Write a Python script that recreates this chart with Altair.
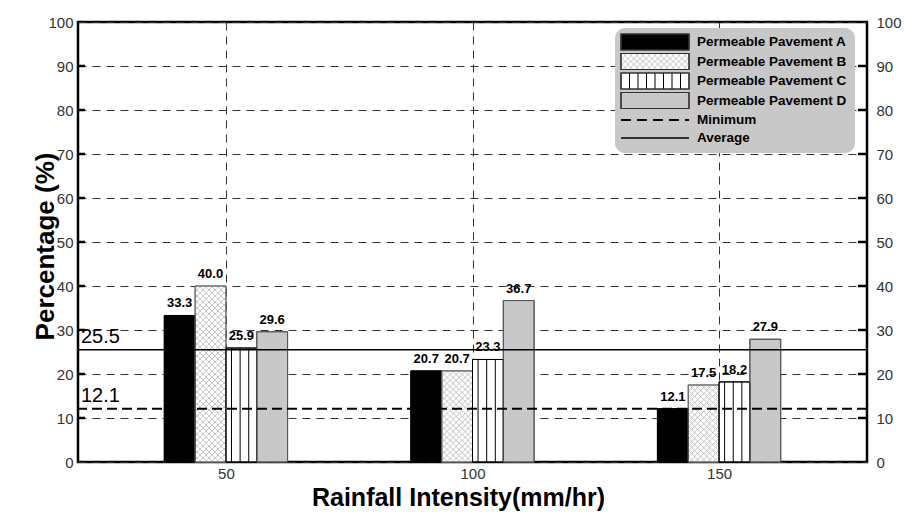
import altair as alt
import pandas as pd
import numpy as np

# ---------------- data ----------------
intensity = [50, 100, 150]
series = ["Permeable Pavement A", "Permeable Pavement B",
          "Permeable Pavement C", "Permeable Pavement D"]
pav_a = [33.3, 20.7, 12.1]
pav_b = [40.0, 20.7, 17.5]
pav_c = [25.9, 23.3, 18.2]
pav_d = [29.6, 36.7, 27.9]
average_value = 25.5
minimum_value = 12.1
y_ticks = [0, 10, 20, 30, 40, 50, 60, 70, 80, 90, 100]
x_ticks = [50, 100, 150]
legend_lines = ["Minimum", "Average"]

# ---------------- layout ----------------
W, H = 789, 440
XDOM = [20, 180]
BW = 6.25                      # bar width in x-data units
PXX = W / (XDOM[1] - XDOM[0])  # pixels per x unit
PXY = H / 100.0                # pixels per y unit
FONT = "Liberation Sans"

XS = alt.Scale(domain=XDOM, nice=False, zero=False)
YS = alt.Scale(domain=[0, 100], nice=False, zero=True)

rows = []
for si, (name, vals) in enumerate(zip(series, [pav_a, pav_b, pav_c, pav_d])):
    for c, v in zip(intensity, vals):
        x0 = c + (si - 2) * BW
        rows.append(dict(series=name, cat=c, value=v, x0=x0, x1=x0 + BW,
                         xc=x0 + BW / 2, label=f"{v:.1f}"))
bars = pd.DataFrame(rows)

fill_range = ["#000000", "#ffffff", "#ffffff", "#c8c8c8"]
stroke_range = ["#000000", "#666666", "#000000", "#555555"]

# crosshatch segments for series B (derived from bar geometry)
def hatch_segments(x0_data, w_px, h_px, s, ox=0.0, oy=0.0, to_data=True):
    segs = []
    for k in np.arange(-h_px, w_px, s):          # x - y = k
        xa, xb = max(0.0, k), min(w_px, h_px + k)
        if xb > xa:
            segs.append((xa, xa - k, xb, xb - k))
    for k in np.arange(s, w_px + h_px, s):       # x + y = k
        xa, xb = max(0.0, k - h_px), min(w_px, k)
        if xb > xa:
            segs.append((xa, k - xa, xb, k - xb))
    out = []
    for (a, b, c, d) in segs:
        if to_data:
            out.append(dict(hx=x0_data + a / PXX, hy=b / PXY,
                            hx2=x0_data + c / PXX, hy2=d / PXY))
        else:
            out.append(dict(hx=ox + a, hy=oy - b, hx2=ox + c, hy2=oy - d))
    return out

hatch_rows = []
for c, v in zip(intensity, pav_b):
    x0 = c + (1 - 2) * BW
    hatch_rows += hatch_segments(x0, BW * PXX, v * PXY, 6.0)
hatch = pd.DataFrame(hatch_rows)

# vertical stripes for series C
stripe_rows = []
for c, v in zip(intensity, pav_c):
    x0 = c + (2 - 2) * BW
    for f in (0.18, 0.46, 0.74):
        stripe_rows.append(dict(sx=x0 + f * BW, sv=v))
stripes = pd.DataFrame(stripe_rows)

ref_df = pd.DataFrame({"v": [average_value, minimum_value],
                       "label": [f"{average_value:.1f}", f"{minimum_value:.1f}"],
                       "kind": ["Average", "Minimum"]})
ticks_df = pd.DataFrame({"t": y_ticks[1:-1]})

# ---------------- layers ----------------
base = alt.Chart(bars)

bar_layer = base.mark_rect(strokeWidth=1).encode(
    x=alt.X("x0:Q", scale=XS, axis=alt.Axis(
        values=x_ticks, title="Rainfall Intensity(mm/hr)", grid=True,
        gridDash=[8, 6], gridColor="#333333", gridWidth=1, ticks=False,
        domain=False, labelFont=FONT, labelFontSize=15, labelColor="#333333",
        labelPadding=4, titleFont=FONT, titleFontSize=25, titleFontWeight="bold",
        titleColor="#000000", titleX=380, titleY=43, titleBaseline="alphabetic",
        titleAlign="center")),
    x2="x1:Q",
    y=alt.Y("value:Q", scale=YS, axis=alt.Axis(
        values=y_ticks, title="Percentage (%)", grid=True, gridDash=[8, 6],
        gridColor="#333333", gridWidth=1, ticks=False, domain=False,
        labelFont=FONT, labelFontSize=15, labelColor="#333333", labelPadding=5,
        titleFont=FONT, titleFontSize=26, titleFontWeight="bold",
        titleColor="#000000", titleX=-20, titleY=224, titleAngle=270,
        titleAlign="center", titleBaseline="bottom")),
    y2=alt.datum(0),
    fill=alt.Fill("series:N", scale=alt.Scale(domain=series, range=fill_range), legend=None),
    stroke=alt.Stroke("series:N", scale=alt.Scale(domain=series, range=stroke_range), legend=None),
)

hatch_layer = alt.Chart(hatch).mark_rule(color="#b4b4b4", strokeWidth=0.8).encode(
    x=alt.X("hx:Q", scale=XS, axis=None), x2="hx2:Q",
    y=alt.Y("hy:Q", scale=YS, axis=None), y2="hy2:Q",
)

stripe_layer = alt.Chart(stripes).mark_rule(color="#000000", strokeWidth=1).encode(
    x=alt.X("sx:Q", scale=XS, axis=None),
    y=alt.Y("sv:Q", scale=YS, axis=None), y2=alt.datum(0),
)

outline_layer = base.mark_rect(fillOpacity=0, strokeWidth=1).encode(
    x=alt.X("x0:Q", scale=XS, axis=None), x2="x1:Q",
    y=alt.Y("value:Q", scale=YS, axis=None), y2=alt.datum(0),
    stroke=alt.Stroke("series:N", scale=alt.Scale(domain=series, range=stroke_range), legend=None),
)

label_layer = base.mark_text(font=FONT, fontSize=13, fontWeight="bold",
                             baseline="alphabetic", dy=-8, color="#000000").encode(
    x=alt.X("xc:Q", scale=XS, axis=None),
    y=alt.Y("value:Q", scale=YS, axis=None),
    text="label:N",
)

avg_rule = alt.Chart(ref_df).transform_filter("datum.kind == 'Average'").mark_rule(
    color="#000000", strokeWidth=1.5).encode(y=alt.Y("v:Q", scale=YS, axis=None))
min_rule = alt.Chart(ref_df).transform_filter("datum.kind == 'Minimum'").mark_rule(
    color="#000000", strokeWidth=2, strokeDash=[10, 5]).encode(y=alt.Y("v:Q", scale=YS, axis=None))

ref_text = alt.Chart(ref_df).mark_text(font=FONT, fontSize=20, align="left",
                                       baseline="alphabetic", dy=-7, color="#000000").encode(
    x=alt.value(3), y=alt.Y("v:Q", scale=YS, axis=None), text="label:N")

tick_left = alt.Chart(ticks_df).mark_rule(color="#000000", strokeWidth=2.5).encode(
    x=alt.value(0), x2=alt.value(7), y=alt.Y("t:Q", scale=YS, axis=None))
tick_right = alt.Chart(ticks_df).mark_rule(color="#000000", strokeWidth=2.5).encode(
    x=alt.value(W - 9), x2=alt.value(W),
    y=alt.Y("t:Q", scale=YS, axis=alt.Axis(
        orient="right", values=y_ticks, title="", grid=False, ticks=False,
        domain=False, labelFont=FONT, labelFontSize=15, labelColor="#333333",
        labelPadding=9)))

# ---------------- legend (pixel positions inside the plot area) ----------------
LX0, LX1, LY0, LY1 = 537, 777, 6, 131
SX0, SX1 = 543, 611
row_c = [20, 39.5, 59, 78.5, 98, 116]

box = alt.Chart(pd.DataFrame({"a": [0]})).mark_rect(
    fill="#c8c8c8", cornerRadius=10).encode(
    x=alt.value(LX0), x2=alt.value(LX1), y=alt.value(LY0), y2=alt.value(LY1))

sym_df = pd.DataFrame({"series": series,
                       "sx0": [SX0] * 4, "sx1": [SX1] * 4,
                       "sy0": [c - 8 for c in row_c[:4]],
                       "sy1": [c + 8 for c in row_c[:4]]})
sym_fill = alt.Chart(sym_df).mark_rect(strokeWidth=1.2).encode(
    x=alt.X("sx0:Q", scale=None), x2="sx1:Q",
    y=alt.Y("sy0:Q", scale=None), y2="sy1:Q",
    fill=alt.Fill("series:N", scale=alt.Scale(domain=series, range=fill_range), legend=None),
    stroke=alt.value("#333333"),
)
leg_hatch = pd.DataFrame(hatch_segments(0, SX1 - SX0, 16, 6.0, ox=SX0,
                                        oy=row_c[1] + 8, to_data=False))
leg_hatch_layer = alt.Chart(leg_hatch).mark_rule(color="#b4b4b4", strokeWidth=0.8).encode(
    x=alt.X("hx:Q", scale=None), x2="hx2:Q", y=alt.Y("hy:Q", scale=None), y2="hy2:Q")
leg_stripes = pd.DataFrame({"lx": list(np.arange(SX0 + 8.5, SX1 - 2, 8.5)),
                            "ly0": row_c[2] - 8, "ly1": row_c[2] + 8})
leg_stripe_layer = alt.Chart(leg_stripes).mark_rule(color="#000000", strokeWidth=1).encode(
    x=alt.X("lx:Q", scale=None), y=alt.Y("ly0:Q", scale=None), y2="ly1:Q")
sym_outline = alt.Chart(sym_df).mark_rect(fillOpacity=0, stroke="#333333", strokeWidth=1.2).encode(
    x=alt.X("sx0:Q", scale=None), x2="sx1:Q",
    y=alt.Y("sy0:Q", scale=None), y2="sy1:Q")

line_df = pd.DataFrame({"kind": legend_lines, "lx0": [SX0] * 2, "lx1": [SX1] * 2,
                        "ly": row_c[4:]})
leg_min = alt.Chart(line_df).transform_filter("datum.kind == 'Minimum'").mark_rule(
    color="#000000", strokeWidth=2, strokeDash=[10, 6]).encode(
    x=alt.X("lx0:Q", scale=None), x2="lx1:Q", y=alt.Y("ly:Q", scale=None))
leg_avg = alt.Chart(line_df).transform_filter("datum.kind == 'Average'").mark_rule(
    color="#000000", strokeWidth=1.5).encode(
    x=alt.X("lx0:Q", scale=None), x2="lx1:Q", y=alt.Y("ly:Q", scale=None))

text_df = pd.DataFrame({"t": series + legend_lines, "ty": row_c, "tx": [619] * 6})
leg_text = alt.Chart(text_df).mark_text(font=FONT, fontSize=13.5, fontWeight="bold",
                                        align="left", baseline="middle",
                                        color="#000000").encode(
    x=alt.X("tx:Q", scale=None), y=alt.Y("ty:Q", scale=None), text="t:N")

chart = alt.layer(
    bar_layer, hatch_layer, stripe_layer, outline_layer, label_layer,
    avg_rule, min_rule, ref_text, tick_left, tick_right,
    box, sym_fill, leg_hatch_layer, leg_stripe_layer, sym_outline,
    leg_min, leg_avg, leg_text,
).resolve_axis(x="independent", y="independent").properties(
    width=W, height=H,
    autosize=alt.AutoSizeParams(type="none"),
    padding={"left": 78, "top": 22, "right": 913 - 78 - W, "bottom": 516 - 22 - H},
    background="#ffffff",
).configure_view(stroke="#000000", strokeWidth=2.5)

chart.save("out.html", embed_options={"renderer": "svg", "actions": False})
